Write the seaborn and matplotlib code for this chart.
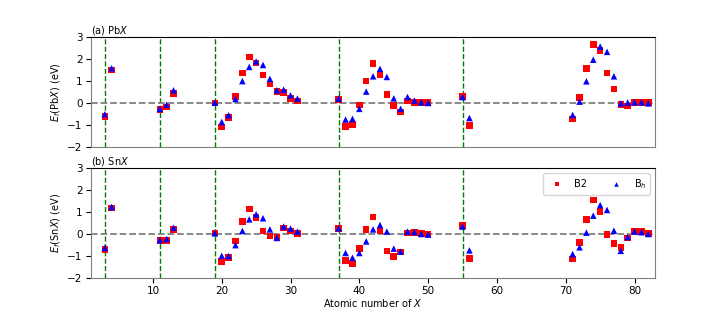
import numpy as np
import pandas as pd
import matplotlib
matplotlib.use("Agg")
import matplotlib.pyplot as plt
import seaborn as sns

Z = [3, 4, 11, 12, 13, 19, 20, 21, 22, 23, 24, 25, 26, 27, 28, 29, 30, 31,
     37, 38, 39, 40, 41, 42, 43, 44, 45, 46, 47, 48, 49, 50, 55, 56,
     71, 72, 73, 74, 75, 76, 77, 78, 79, 80, 81, 82]

pb_b2 = [-0.61, 1.50, -0.30, -0.18, 0.43, 0.00, -1.10, -0.67, 0.29, 1.37, 2.10, 1.82, 1.27, 0.87, 0.53, 0.49, 0.21, 0.09,
         0.17, -1.07, -0.98, -0.09, 1.00, 1.80, 1.31, 0.38, -0.12, -0.41, 0.09, 0.03, 0.02, 0.03, 0.29, -1.04,
         -0.73, 0.26, 1.57, 2.67, 2.40, 1.37, 0.63, -0.08, -0.14, 0.02, 0.03, 0.02]
pb_bh = [-0.52, 1.59, -0.27, -0.08, 0.58, 0.01, -0.87, -0.56, 0.18, 1.00, 1.65, 1.90, 1.74, 1.10, 0.58, 0.61, 0.35, 0.20,
         0.20, -0.76, -0.73, -0.27, 0.52, 1.22, 1.56, 1.19, 0.21, -0.27, 0.27, 0.11, 0.03, 0.00, 0.27, -0.69,
         -0.55, 0.06, 0.99, 1.98, 2.58, 2.34, 1.22, -0.02, 0.02, 0.03, 0.03, -0.02]

sn_b2 = [-0.72, 1.18, -0.29, -0.29, 0.21, 0.05, -1.27, -1.07, -0.32, 0.58, 1.15, 0.75, 0.14, -0.09, -0.15, 0.28, 0.14, 0.02,
         0.26, -1.21, -1.35, -0.67, 0.21, 0.78, 0.14, -0.78, -1.03, -0.83, 0.05, 0.06, 0.02, 0.00, 0.38, -1.13,
         -1.15, -0.38, 0.67, 1.55, 1.04, -0.03, -0.43, -0.61, -0.18, 0.11, 0.11, 0.02]
sn_bh = [-0.64, 1.24, -0.28, -0.23, 0.29, 0.03, -1.00, -1.01, -0.51, 0.14, 0.67, 0.90, 0.72, 0.21, -0.18, 0.34, 0.25, 0.11,
         0.26, -0.87, -1.09, -0.87, -0.34, 0.21, 0.41, 0.11, -0.67, -0.81, 0.11, 0.09, 0.00, -0.03, 0.34, -0.75,
         -0.92, -0.61, 0.06, 0.84, 1.32, 1.10, 0.15, -0.77, -0.14, 0.11, 0.08, 0.00]

alkali = [3, 11, 19, 37, 55]
phases = ["B2", "B$_h$"]
panels = [("(a) Pb$X$", "$E_f$(Pb$X$) (eV)", pb_b2, pb_bh),
          ("(b) Sn$X$", "$E_f$(Sn$X$) (eV)", sn_b2, sn_bh)]

plt.rcParams['font.family'] = ['DejaVu Sans']
plt.rcParams['font.size'] = 7

fig, axes = plt.subplots(2, 1, figsize=(7.28, 3.12), dpi=100)
fig.subplots_adjust(left=0.125, right=0.9, top=0.88, bottom=0.11, hspace=0.2)

for i, (ax, (title, ylab, b2, bh)) in enumerate(zip(axes, panels)):
    df = pd.DataFrame({
        "Z": Z * 2,
        "E": list(b2) + list(bh),
        "phase": [phases[0]] * len(Z) + [phases[1]] * len(Z),
    })
    for v in alkali:
        ax.axvline(v, color="green", ls="--", lw=1.0, zorder=1)
    ax.axhline(0, color="gray", ls="--", lw=1.3, zorder=1)
    sns.scatterplot(data=df, x="Z", y="E", hue="phase", style="phase",
                    palette={phases[0]: "red", phases[1]: "blue"},
                    markers={phases[0]: "s", phases[1]: "^"},
                    s=22, linewidth=0, ax=ax, zorder=3,
                    legend=(i == 1))
    ax.set_xlim(1, 83)
    ax.set_ylim(-2, 3)
    ax.set_yticks([-2, -1, 0, 1, 2, 3])
    ax.set_xticks([10, 20, 30, 40, 50, 60, 70, 80])
    ax.set_ylabel(ylab, fontsize=7, labelpad=3)
    ax.set_title(title, loc="left", fontsize=7, pad=3)
    for side in ["left", "right", "bottom"]:
        ax.spines[side].set_color("gray")
    ax.spines["top"].set_color("black")
    ax.tick_params(colors="black", labelsize=7.5, pad=2.5)
    if i == 0:
        ax.set_xlabel("")
        ax.set_xticklabels([])
        ax.tick_params(axis="x", length=0)
    else:
        ax.set_xlabel("Atomic number of $X$", fontsize=7, labelpad=1)
        ax.legend(loc="upper right", ncol=2, fontsize=7, markerscale=0.7)

fig.savefig("out.png", dpi=100)
